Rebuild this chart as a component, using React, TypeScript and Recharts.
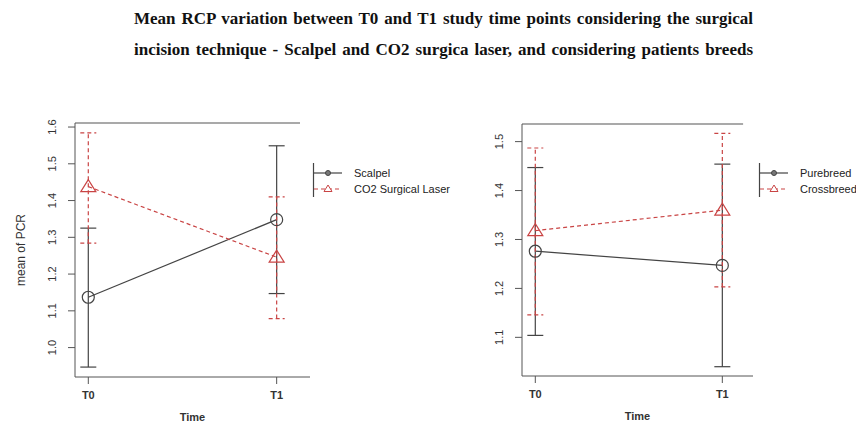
import { ComposedChart, Line, XAxis, YAxis, ErrorBar, ReferenceLine } from 'recharts'

const categories = ['T0', 'T1']

// surgical incision technique
const scalpelMean = [1.137, 1.348]
const scalpelLow = [0.947, 1.147]
const scalpelHigh = [1.325, 1.549]
const laserMean = [1.438, 1.246]
const laserLow = [1.284, 1.079]
const laserHigh = [1.584, 1.41]

// breeds
const pureMean = [1.276, 1.247]
const pureLow = [1.104, 1.04]
const pureHigh = [1.447, 1.454]
const crossMean = [1.318, 1.36]
const crossLow = [1.146, 1.203]
const crossHigh = [1.487, 1.517]

const leftTicks = [1.0, 1.1, 1.2, 1.3, 1.4, 1.5, 1.6]
const rightTicks = [1.1, 1.2, 1.3, 1.4, 1.5]

const GREY = '#444444'
const RED = '#c94444'
const AXIS = '#555555'
const FONT = '"Liberation Sans", Arial, sans-serif'

const techData = categories.map((_, i) => ({
    t: i,
    a: scalpelMean[i],
    aErr: [scalpelMean[i] - scalpelLow[i], scalpelHigh[i] - scalpelMean[i]],
    b: laserMean[i],
    bErr: [laserMean[i] - laserLow[i], laserHigh[i] - laserMean[i]],
}))

const breedData = categories.map((_, i) => ({
    t: i,
    a: pureMean[i],
    aErr: [pureMean[i] - pureLow[i], pureHigh[i] - pureMean[i]],
    b: crossMean[i],
    bErr: [crossMean[i] - crossLow[i], crossHigh[i] - crossMean[i]],
}))

const CircleDot = (props: any) => {
    const { cx, cy } = props
    if (cx == null || cy == null) return null
    return <circle cx={cx} cy={cy} r={6} fill="none" stroke={GREY} strokeWidth={1.2} />
}

const TriangleDot = (props: any) => {
    const { cx, cy } = props
    if (cx == null || cy == null) return null
    return (
        <polygon
            points={`${cx},${cy - 7} ${cx - 7.5},${cy + 5} ${cx + 7.5},${cy + 5}`}
            fill="none"
            stroke={RED}
            strokeWidth={1.2}
        />
    )
}

const YTick = (props: any) => {
    const { x, y, payload } = props
    return (
        <text
            transform={`translate(${x - 10},${y}) rotate(-90)`}
            textAnchor="middle"
            fontSize={11}
            fill="#333"
            fontFamily={FONT}
        >
            {payload.value.toFixed(1)}
        </text>
    )
}

const LegendBox = ({ names, left }: { names: string[]; left: number }) => (
    <svg
        width={140}
        height={40}
        style={{ position: 'absolute', left, top: 160, overflow: 'visible' }}
    >
        <line x1={0.5} y1={3} x2={0.5} y2={37} stroke={GREY} strokeWidth={1.2} />
        <line x1={1} y1={13} x2={29} y2={13} stroke={GREY} strokeWidth={1.2} />
        <circle cx={15} cy={13} r={2.5} fill="#777" stroke={GREY} />
        <line x1={1} y1={29} x2={29} y2={29} stroke={RED} strokeWidth={1.2} strokeDasharray="4 3" />
        <polygon points="15,25 11,31.5 19,31.5" fill="white" stroke={RED} strokeWidth={1} />
        <text x={41} y={17} fontSize={11} fill="#222" fontFamily={FONT}>
            {names[0]}
        </text>
        <text x={41} y={33} fontSize={11} fill="#222" fontFamily={FONT}>
            {names[1]}
        </text>
    </svg>
)

interface PanelProps {
    data: any[]
    names: string[]
    ticks: number[]
    yDomain: [number, number]
    xDomain: [number, number]
    topEnd: number
    width: number
    margin: { top: number; right: number; bottom: number; left: number }
    yLabel?: string
}

function Panel({ data, names, ticks, yDomain, xDomain, topEnd, width, margin, yLabel }: PanelProps) {
    return (
        <ComposedChart width={width} height={426} data={data} margin={margin}>
            <XAxis
                dataKey="t"
                type="number"
                domain={xDomain}
                allowDataOverflow
                ticks={[0, 1]}
                tickFormatter={(v: number) => categories[v]}
                tickSize={7}
                tickMargin={7}
                height={48}
                stroke={AXIS}
                tick={{ fontSize: 11, fill: '#333', fontFamily: FONT, fontWeight: 600 }}
                label={{
                    value: 'Time',
                    position: 'insideBottom',
                    offset: 4,
                    fontSize: 11,
                    fill: '#333',
                    fontFamily: FONT,
                    fontWeight: 600,
                }}
            />
            <YAxis
                type="number"
                domain={yDomain}
                allowDataOverflow
                ticks={ticks}
                width={30}
                tickSize={7}
                tickMargin={2}
                stroke={AXIS}
                tick={<YTick />}
                label={
                    yLabel
                        ? ({ viewBox }: any) => (
                              <text
                                  transform={`translate(${viewBox.x - 20},${viewBox.y + viewBox.height / 2}) rotate(-90)`}
                                  textAnchor="middle"
                                  fontSize={12}
                                  fill="#333"
                                  fontFamily={FONT}
                              >
                                  {yLabel}
                              </text>
                          )
                        : undefined
                }
            />
            <ReferenceLine
                segment={[
                    { x: xDomain[0], y: yDomain[1] },
                    { x: topEnd, y: yDomain[1] },
                ]}
                stroke={AXIS}
                strokeWidth={1.2}
                ifOverflow="visible"
            />
            <Line
                type="linear"
                dataKey="a"
                name={names[0]}
                stroke={GREY}
                strokeWidth={1.2}
                dot={<CircleDot />}
                activeDot={false}
                isAnimationActive={false}
            >
                <ErrorBar dataKey="aErr" direction="y" width={8} stroke={GREY} strokeWidth={1.2} />
            </Line>
            <Line
                type="linear"
                dataKey="b"
                name={names[1]}
                stroke={RED}
                strokeWidth={1.2}
                strokeDasharray="4 3"
                dot={<TriangleDot />}
                activeDot={false}
                isAnimationActive={false}
            >
                <ErrorBar
                    dataKey="bErr"
                    direction="y"
                    width={8}
                    stroke={RED}
                    strokeWidth={1.2}
                    strokeDasharray="4 3"
                />
            </Line>
        </ComposedChart>
    )
}

const techNames = ['Scalpel', 'CO2 Surgical Laser']
const breedNames = ['Purebreed', 'Crossbreed']

export default function App() {
    return (
        <div style={{ position: 'absolute', left: 0, top: 0, width: 856, height: 426, background: 'white' }}>
            <div
                style={{
                    position: 'absolute',
                    left: 134,
                    top: 3,
                    width: 619,
                    textAlign: 'justify',
                    textAlignLast: 'justify',
                    fontFamily: '"Liberation Serif", "Times New Roman", serif',
                    fontWeight: 'bold',
                    fontSize: 17,
                    lineHeight: '31px',
                    color: '#111',
                }}
            >
                Mean RCP variation between T0 and T1 study time points considering the surgical
                <br />
                incision technique - Scalpel and CO2 surgica laser, and considering patients breeds
            </div>
            <div style={{ position: 'absolute', left: 0, top: 0 }}>
                <Panel
                    data={techData}
                    names={techNames}
                    ticks={leftTicks}
                    yDomain={[0.92, 1.611]}
                    xDomain={[-0.0706, 1.177]}
                    topEnd={1.124}
                    width={430}
                    margin={{ top: 123, right: 120, bottom: 1, left: 45 }}
                    yLabel="mean of PCR"
                />
            </div>
            <div style={{ position: 'absolute', left: 430, top: 0 }}>
                <Panel
                    data={breedData}
                    names={breedNames}
                    ticks={rightTicks}
                    yDomain={[1.021, 1.536]}
                    xDomain={[-0.0711, 1.164]}
                    topEnd={1.111}
                    width={426}
                    margin={{ top: 124, right: 103, bottom: 2, left: 62 }}
                />
            </div>
            <LegendBox names={techNames} left={313} />
            <LegendBox names={breedNames} left={759} />
        </div>
    )
}
